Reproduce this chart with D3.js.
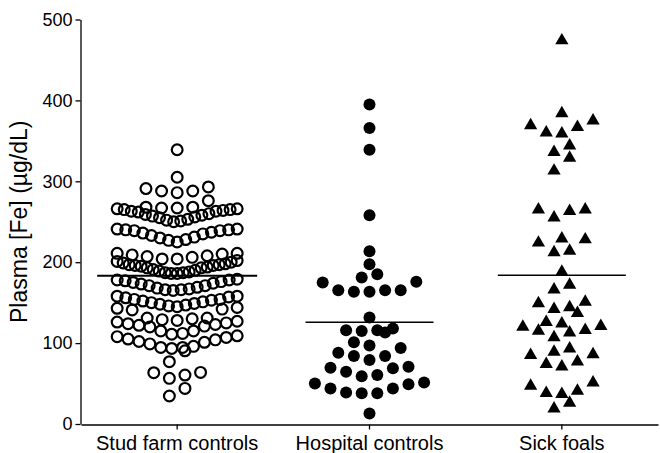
<!DOCTYPE html>
<html>
<head>
<meta charset="utf-8">
<script src="https://cdn.jsdelivr.net/npm/d3@7"></script>
<style>
  body { margin: 0; background: #fff; }
  text { font-family: "Liberation Sans", Arial, sans-serif; fill: #000; }
</style>
</head>
<body>
<svg id="chart" width="660" height="453"></svg>
<script>
// Plasma iron (µg/dL) per foal, by group
const groups = ["Stud farm controls", "Hospital controls", "Sick foals"];

const studFarm = [
  339, 305,
  293, 291, 288, 288, 286, 276,
  268, 268, 267, 267, 266, 266, 265, 265, 264, 263, 263, 262, 260, 259, 258, 257, 256, 255, 253, 252, 251, 250,
  241, 241, 240, 240, 239, 239, 237, 236, 235, 233, 231, 230, 228, 227, 225,
  211, 211, 210, 209, 208, 207, 206, 204, 204, 202, 201, 200, 199, 198, 197, 197,
  196, 196, 195, 194, 193, 193, 191, 190, 189, 188, 187, 187, 186, 186,
  179, 178, 178, 177, 176, 175, 174, 173, 171, 171, 169, 168, 167, 166, 166, 165,
  158, 158, 157, 156, 154, 154, 153, 152, 151, 150, 149, 148, 147, 146, 145, 144, 143, 142, 141,
  131, 131, 130, 129, 128, 127, 126, 125, 124, 123, 122, 121, 120,
  115, 115, 112, 111, 109, 108, 107, 105, 104, 102, 101, 99,
  96, 94.6, 94.6, 93.4, 90.5,
  77,
  63.8, 63.4, 60.5, 56.4,
  44, 34.6
];

const hospital = [
  395, 366, 339, 258,
  213.6, 197.5, 185, 181, 175.7, 175, 165.4, 165.4, 163.4, 163.4, 165.4,
  131.7,
  116, 115, 113, 116, 118,
  97, 101, 88, 84, 79, 84, 94,
  69, 64.6, 59, 60.5, 69.5, 70.8,
  51.4, 49, 44, 38, 38, 39, 44, 50,
  13
];

const sickFoals = [
  474, 384, 375, 367, 359, 360, 369, 344, 336, 329, 313,
  265, 263, 265, 255,
  229, 224, 228, 212, 214,
  188, 166, 172,
  149, 142, 137, 144, 151,
  126, 121, 116, 107, 113, 115, 120, 124,
  86, 77, 71, 74, 93, 85, 89,
  47, 37, 41, 51, 38,
  19, 26
];

const yTicks = [0, 100, 200, 300, 400, 500];
const yTitle = "Plasma [Fe] (µg/dL)";

const series = [studFarm, hospital, sickFoals];

const svg = d3.select("#chart");
const x = d3.scaleBand().domain(groups).range([81, 658]).padding(0);
const y = d3.scaleLinear().domain([0, 500]).range([424, 19.5]);

// Arrange each group's points in tiers: values sorted upwards, a new tier
// starts once the next value sits a symbol-height above the tier's lowest,
// and inside a tier the lowest values take the middle slots.
function swarm(values, tierPx, step, maxWidth) {
  const sorted = values.slice().sort((a, b) => a - b);
  const tiers = [];
  let cur = null;
  for (const v of sorted) {
    if (!cur || y(cur[0]) - y(v) >= tierPx) { cur = []; tiers.push(cur); }
    cur.push(v);
  }
  const out = [];
  tiers.forEach(t => {
    const n = t.length;
    const gap = n > 1 ? Math.min(step, maxWidth / (n - 1)) : 0;
    const slots = d3.range(n).map(i => (i - (n - 1) / 2) * gap);
    slots.sort((a, b) => Math.abs(a) - Math.abs(b) || a - b);
    t.forEach((v, i) => out.push({ value: v, dx: slots[i] }));
  });
  return out;
}

// Axes
const yAxis = d3.axisLeft(y).tickValues(yTicks).tickSize(5).tickSizeOuter(0).tickPadding(3);
const gy = svg.append("g").attr("transform", "translate(80.5,0)").call(yAxis);
gy.select(".domain").attr("stroke", "#000").attr("stroke-width", 1.3);
gy.selectAll(".tick line").attr("stroke", "#000").attr("stroke-width", 1.3);
gy.selectAll(".tick text").attr("font-size", 18).attr("font-family", "Liberation Sans, Arial, sans-serif");

const xAxis = d3.axisBottom(x).tickSize(5).tickSizeOuter(0).tickPadding(6);
const gx = svg.append("g").attr("transform", "translate(0,424.5)").call(xAxis);
gx.select(".domain").attr("stroke", "#000").attr("stroke-width", 1.3);
gx.selectAll(".tick line").attr("stroke", "#000").attr("stroke-width", 1.3);
gx.selectAll(".tick text").attr("font-size", 20).attr("font-family", "Liberation Sans, Arial, sans-serif");

svg.append("text")
  .attr("transform", `translate(27,${(y(0) + y(500)) / 2}) rotate(-90)`)
  .attr("text-anchor", "middle")
  .attr("font-size", 23)
  .text(yTitle);

// Points
const step = 15.6, maxWidth = 120, tierPx = 13;
const triangle = d3.symbol().type(d3.symbolTriangle).size(76);

series.forEach((vals, gi) => {
  const cx = x(groups[gi]) + x.bandwidth() / 2;
  const pts = swarm(vals, tierPx, step, maxWidth);
  const g = svg.append("g");
  if (gi === 0) {
    g.selectAll("circle").data(pts).join("circle")
      .attr("cx", d => cx + d.dx).attr("cy", d => y(d.value))
      .attr("r", 5.4).attr("fill", "none").attr("stroke", "#000").attr("stroke-width", 2.2);
  } else if (gi === 1) {
    g.selectAll("circle").data(pts).join("circle")
      .attr("cx", d => cx + d.dx).attr("cy", d => y(d.value))
      .attr("r", 6).attr("fill", "#000");
  } else {
    g.selectAll("path").data(pts).join("path")
      .attr("d", triangle)
      .attr("transform", d => `translate(${cx + d.dx},${y(d.value)})`)
      .attr("fill", "#000");
  }
});

// Group means
const lineHalf = [80, 64, 64];
const lineWidth = [2, 1.5, 1.5];
series.forEach((vals, gi) => {
  const cx = x(groups[gi]) + x.bandwidth() / 2;
  const m = d3.mean(vals);
  svg.append("line")
    .attr("x1", cx - lineHalf[gi]).attr("x2", cx + lineHalf[gi])
    .attr("y1", y(m)).attr("y2", y(m))
    .attr("stroke", "#000").attr("stroke-width", lineWidth[gi]);
});
</script>
</body>
</html>
